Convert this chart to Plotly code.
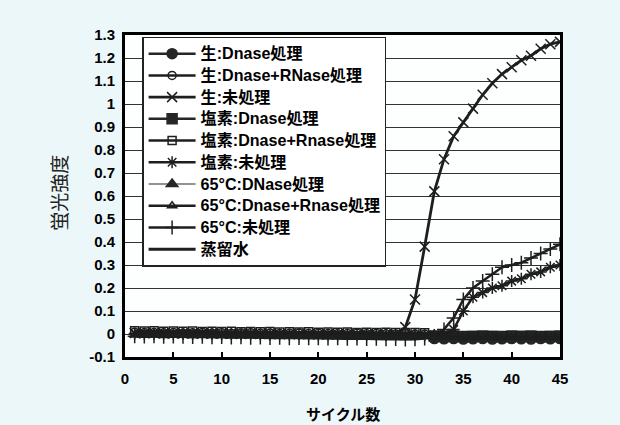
import plotly.graph_objects as go

# PCR cycle numbers
cycles = list(range(1, 46))

# Fluorescence intensity per sample (None = no reading)
raw_dnase = [None] * 31 + [
    -0.020, -0.021, -0.020, -0.022, -0.021, -0.020, -0.022,
    -0.021, -0.020, -0.021, -0.022, -0.020, -0.021, -0.020]

raw_dnase_rnase = [
    0.008, 0.006, 0.007, 0.005, 0.006, 0.004, 0.005, 0.006, 0.004, 0.005,
    0.003, 0.004, 0.005, 0.003, 0.004, 0.002, 0.003, 0.004, 0.002, 0.003,
    0.002, 0.001, 0.002, 0.003, 0.001, 0.002, 0.001, 0.000, 0.001, 0.000,
    -0.001, -0.008, -0.009, -0.010, -0.009, -0.011, -0.010, -0.009, -0.011,
    -0.010, -0.012, -0.011, -0.010, -0.012, -0.011]

raw_untreated = [
    0.004, 0.003, 0.004, 0.002, 0.003, 0.002, 0.003, 0.001, 0.002, 0.001,
    0.002, 0.000, 0.001, 0.000, 0.001, -0.001, 0.000, -0.001, 0.000, -0.002,
    -0.001, -0.002, -0.001, -0.002, -0.003, -0.002, -0.003, -0.002, 0.030,
    0.150, 0.380, 0.620, 0.760, 0.860, 0.920, 0.980, 1.040, 1.090, 1.130,
    1.160, 1.190, 1.210, 1.240, 1.260, 1.270]

chlorine_dnase = [None] * 31 + [
    -0.010, -0.011, -0.010, -0.012, -0.011, -0.010, -0.011,
    -0.012, -0.010, -0.011, -0.010, -0.012, -0.011, -0.010]

chlorine_dnase_rnase = [
    0.014, 0.013, 0.014, 0.012, 0.013, 0.012, 0.013, 0.011, 0.012, 0.011,
    0.012, 0.010, 0.011, 0.010, 0.011, 0.009, 0.010, 0.009, 0.010, 0.008,
    0.009, 0.008, 0.009, 0.007, 0.008, 0.007, 0.008, 0.006, 0.007, 0.006,
    0.005, -0.005, -0.006, -0.005, -0.007, -0.006, -0.005, -0.006, -0.007,
    -0.005, -0.006, -0.005, -0.007, -0.006, -0.005]

chlorine_untreated = [
    0.002, 0.001, 0.002, 0.001, 0.000, 0.001, 0.000, 0.001, 0.000, -0.001,
    0.000, -0.001, 0.000, -0.001, -0.002, -0.001, -0.002, -0.001, -0.002, -0.003,
    -0.002, -0.003, -0.002, -0.003, -0.004, -0.003, -0.004, -0.003, -0.004, -0.004,
    -0.005, -0.004, -0.002, 0.020, 0.100, 0.160, 0.180, 0.200, 0.210,
    0.230, 0.240, 0.260, 0.270, 0.290, 0.300]

heat_dnase = [None] * 31 + [
    -0.015, -0.016, -0.015, -0.017, -0.016, -0.015, -0.016,
    -0.017, -0.015, -0.016, -0.015, -0.017, -0.016, -0.015]

heat_dnase_rnase = [
    -0.004, -0.005, -0.004, -0.006, -0.005, -0.004, -0.006, -0.005, -0.006, -0.005,
    -0.007, -0.006, -0.005, -0.007, -0.006, -0.007, -0.006, -0.008, -0.007, -0.006,
    -0.008, -0.007, -0.008, -0.007, -0.009, -0.008, -0.009, -0.008, -0.010, -0.009,
    -0.010, -0.014, -0.015, -0.014, -0.016, -0.015, -0.014, -0.015, -0.016,
    -0.014, -0.015, -0.014, -0.016, -0.015, -0.014]

heat_untreated = [
    -0.010, -0.011, -0.010, -0.012, -0.011, -0.012, -0.013, -0.012, -0.014, -0.013,
    -0.015, -0.014, -0.016, -0.015, -0.017, -0.016, -0.018, -0.017, -0.019, -0.018,
    -0.020, -0.019, -0.021, -0.020, -0.022, -0.021, -0.023, -0.022, -0.024, -0.023,
    -0.020, -0.010, 0.020, 0.070, 0.150, 0.200, 0.230, 0.260, 0.290,
    0.300, 0.310, 0.330, 0.350, 0.370, 0.390]

water = [
    -0.004, -0.005, -0.005, -0.006, -0.005, -0.006, -0.006, -0.007, -0.006, -0.007,
    -0.007, -0.008, -0.007, -0.008, -0.008, -0.009, -0.008, -0.009, -0.009, -0.010,
    -0.009, -0.010, -0.010, -0.011, -0.010, -0.011, -0.011, -0.012, -0.011, -0.012,
    -0.012, -0.018, -0.019, -0.018, -0.020, -0.019, -0.018, -0.019, -0.020,
    -0.018, -0.019, -0.018, -0.020, -0.019, -0.018]

y_ticks = [-0.1, 0, 0.1, 0.2, 0.3, 0.4, 0.5, 0.6, 0.7, 0.8, 0.9, 1.0, 1.1, 1.2, 1.3]
y_tick_text = ["-0.1", "0", "0.1", "0.2", "0.3", "0.4", "0.5", "0.6", "0.7",
               "0.8", "0.9", "1", "1.1", "1.2", "1.3"]
x_ticks = [0, 5, 10, 15, 20, 25, 30, 35, 40, 45]

INK = "#1e1e1e"
BAND = "#262626"

series = [
    ("生:Dnase処理", raw_dnase, "circle", 10, 2.5, BAND),
    ("生:Dnase+RNase処理", raw_dnase_rnase, "circle-open", 8, 2.5, INK),
    ("生:未処理", raw_untreated, "x-thin-open", 10, 2.8, INK),
    ("塩素:Dnase処理", chlorine_dnase, "square", 10, 2.5, BAND),
    ("塩素:Dnase+Rnase処理", chlorine_dnase_rnase, "square-open", 8, 2.5, INK),
    ("塩素:未処理", chlorine_untreated, "asterisk-open", 10, 2.5, INK),
    ("65°C:DNase処理", heat_dnase, "triangle-up", 10, 1.2, BAND),
    ("65°C:Dnase+Rnase処理", heat_dnase_rnase, "triangle-up-open", 8, 2.5, INK),
    ("65°C:未処理", heat_untreated, "cross-thin-open", 10, 2.5, INK),
]


def legend_label(text):
    # slightly larger glyphs than the base legend font, keeping the row pitch
    return f'<span style="font-size:16.1px">{text}</span>'


fig = go.Figure()
for name, vals, symbol, size, lw, color in series:
    fig.add_trace(go.Scatter(
        x=cycles, y=vals, name=legend_label(name), mode="lines+markers",
        line=dict(color=color, width=lw),
        marker=dict(symbol=symbol, size=size, color=color,
                    line=dict(color=color, width=1.5)),
    ))
fig.add_trace(go.Scatter(
    x=cycles, y=water, name=legend_label("蒸留水"), mode="lines",
    line=dict(color=INK, width=3),
))

font_latin = "Liberation Sans, Arial, Noto Sans CJK JP, sans-serif"
font_jp = "Noto Sans CJK JP, sans-serif"

fig.update_layout(
    width=620, height=425,
    margin=dict(l=125, r=60, t=35, b=68),
    paper_bgcolor="#ecf7f9",
    plot_bgcolor="#fdfefe",
    font=dict(family=font_latin, color="black", size=15),
    showlegend=True,
    legend=dict(
        x=0.04, y=0.995, xanchor="left", yanchor="top",
        bgcolor="white", bordercolor="#222", borderwidth=1.2,
        font=dict(family=font_latin, size=14.4, color="black", weight="bold"),
        itemwidth=47, tracegroupgap=0,
    ),
    xaxis=dict(
        range=[0, 45], tickvals=x_ticks, ticks="inside", ticklen=5,
        tickwidth=1.5, tickcolor="black", showgrid=False, zeroline=False,
        showline=True, linewidth=3, linecolor="black", mirror=True,
        tickfont=dict(family=font_latin, size=15, color="black", weight="bold"),
        ticklabelstandoff=6,
    ),
    yaxis=dict(
        range=[-0.1, 1.3], tickvals=y_ticks, ticktext=y_tick_text,
        ticks="", showgrid=True, gridcolor="#333", gridwidth=1.2,
        zeroline=False, showline=True, linewidth=3, linecolor="black",
        mirror=True,
        tickfont=dict(family=font_latin, size=15, color="black", weight="bold"),
        ticklabelstandoff=4,
    ),
    annotations=[
        dict(text="サイクル数", xref="paper", yref="paper", x=0.5, y=-0.174,
             xanchor="center", yanchor="middle", showarrow=False,
             font=dict(family=font_jp, size=15, color="black", weight="bold")),
        dict(text="蛍光強度", xref="paper", yref="paper", x=-0.152, y=0.51,
             xanchor="center", yanchor="middle", showarrow=False, textangle=-90,
             font=dict(family=font_jp, size=19, color="#222")),
    ],
)

fig.write_html("out.html")
